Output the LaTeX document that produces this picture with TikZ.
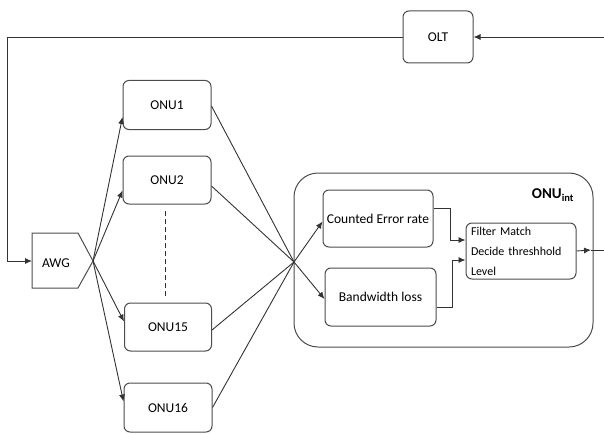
\documentclass[tikz,border=0pt]{standalone}
\usepackage{fontspec}
\setmainfont{Carlito}
\usetikzlibrary{arrows.meta}
\begin{document}
\begin{tikzpicture}[x=1pt,y=-1pt,
  box/.style={draw=black!70, rounded corners=6pt, line width=1pt, inner sep=0pt, font=\fontsize{13.5}{15}\selectfont},
  ln/.style={draw=black!80, line width=0.9pt},
  arr/.style={ln, -{Latex[length=7pt,width=6pt]}}]
\useasboundingbox (0,0) rectangle (604,433);
% OLT
\node[box, minimum width=70pt, minimum height=52pt] (olt) at (438,37) {OLT};
% ONUs
\node[box, minimum width=88pt, minimum height=49pt] (onu1) at (167,105) {ONU1};
\node[box, minimum width=88pt, minimum height=48pt] (onu2) at (167,180) {ONU2};
\node[box, minimum width=87pt, minimum height=48pt] (onu15) at (168,327) {ONU15};
\node[box, minimum width=88pt, minimum height=49pt] (onu16) at (168,407.5) {ONU16};
% AWG pentagon
\coordinate (awgtl) at (32,233);
\coordinate (awgtr) at (78,233);
\coordinate (awgp) at (93,261);
\coordinate (awgbr) at (78,288);
\coordinate (awgbl) at (32,288);
\draw[draw=black!70, line width=1pt] (awgtl) -- (awgtr) -- (awgp) -- (awgbr) -- (awgbl) -- cycle;
\node[font=\fontsize{13.5}{15}\selectfont, inner sep=0pt] (awg) at (56,263) {AWG};
% ONU_int container
\node[draw=black!70, line width=1pt, rounded corners=24pt, minimum width=299pt, minimum height=174pt, inner sep=0pt] (onuint) at (443.5,260) {};
\node[font=\bfseries\fontsize{15}{17}\selectfont, inner sep=0pt] (onulbl) at (553,195) {ONU\textsubscript{int}};
\node[box, minimum width=110pt, minimum height=57pt] (cer) at (378,218.5) {Counted Error rate};
\node[box, minimum width=111pt, minimum height=58pt] (bwl) at (380.5,297) {Bandwidth loss};
\node[box, minimum width=110pt, minimum height=56pt, align=left, text width=100pt, font=\fontsize{12}{20}\selectfont] (flt) at (521,251) {Filter Match\\Decide threshhold\\Level};
% crossing point
\coordinate (x) at (294,262);
% feedback loop
\coordinate (tl) at (7,38);
\coordinate (lb) at (7,261);
\coordinate (tr) at (604,37);
\coordinate (outend) at (604,250);
\draw[ln] (olt.west) -- (olt.west -| tl) -- (lb);
\draw[arr] (lb) -- (awgtl |- lb);
\draw[arr] (tr) -- (olt.east);
% AWG to ONUs
\draw[arr] (awgp) -- ([yshift=13pt]onu1.south west);
\draw[arr] (awgp) -- ([yshift=14pt]onu2.south west);
\draw[arr] (awgp) -- ([yshift=-19pt]onu15.north west);
\draw[arr] (awgp) -- ([yshift=-19pt]onu16.north west);
% ONUs to crossing
\draw[ln] ([yshift=-1pt]onu1.east) -- (x);
\draw[ln] ([yshift=-6pt]onu2.east) -- (x);
\draw[ln] ([yshift=-3pt]onu15.east) -- (x);
\draw[ln] (onu16.east) -- (x);
% dashed
\coordinate (d1) at (165,211);
\coordinate (d2) at (165,297);
\draw[ln, dashed, dash pattern=on 5pt off 3pt] (d1) -- (d2);
% crossing to inner boxes
\draw[arr] (x) -- ([yshift=-3pt]cer.west);
\draw[arr] (x) -- ([yshift=-2pt]bwl.west);
% inner to filter
\coordinate (c1) at (450,208);
\coordinate (c2) at (452,307);
\draw[arr] (cer.east |- c1) -- (c1) -- (c1 |- 0,240) -- (flt.west |- 0,240);
\draw[arr] (bwl.east |- c2) -- (c2) -- (c2 |- 0,260) -- (flt.west |- 0,260);
% output
\draw[arr] (flt.east) -- (591,250);
\draw[ln] (591,250) -- (outend);
\end{tikzpicture}
\end{document}
